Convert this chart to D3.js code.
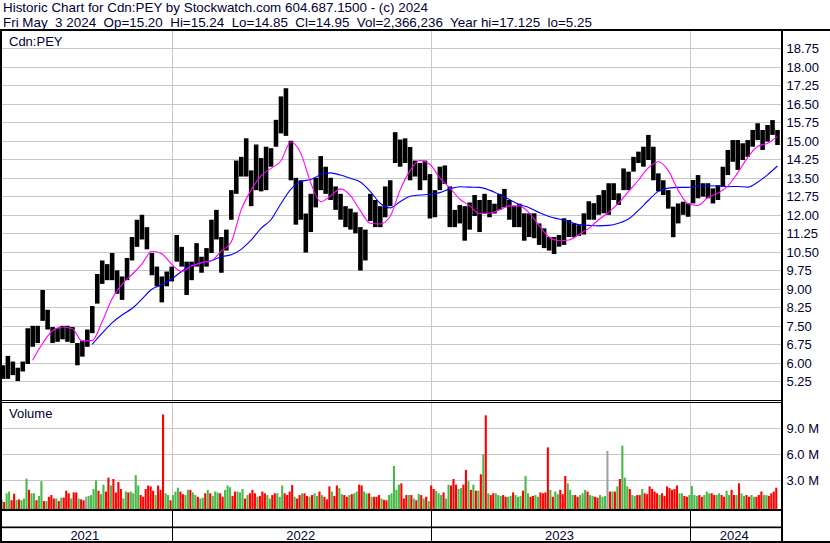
<!DOCTYPE html>
<html><head><meta charset="utf-8">
<script src="https://cdn.jsdelivr.net/npm/d3@7"></script>
<style>
body{margin:0;background:#fff}
svg{display:block}
text{font-family:"Liberation Sans",Arial,sans-serif;fill:#000033}
</style>
</head><body><svg id="c" width="830" height="543"></svg>
<script>
// ---------- DATA ----------
const headerLine1 = "Historic Chart for Cdn:PEY by Stockwatch.com 604.687.1500 - (c) 2024";
const headerLine2 = "Fri May  3 2024  Op=15.20  Hi=15.24  Lo=14.85  Cl=14.95  Vol=2,366,236  Year hi=17.125  lo=5.25";
const symbolLabel = "Cdn:PEY";
const volumeLabel = "Volume";
const firstWeek = "2021-05-03";
// weekly high / low (one bar per week)
const weekHigh = [5.9,6.28,6.05,5.8,6.05,7.4,7.5,7.5,8.95,8.15,
7.45,7.4,7.5,7.5,7.45,6.8,6.9,7.35,8.3,9.6,
10.15,10.0,10.45,9.75,9.5,10.25,11.1,11.8,12.0,11.5,
10.45,9.9,9.5,9.7,9.9,11.18,10.7,10.1,10.1,10.85,
10.3,10.65,11.8,12.2,11.1,11.4,13.0,14.2,14.35,15.1,
13.8,14.85,14.3,14.76,14.7,15.85,16.8,17.13,15.0,13.5,
13.4,12.05,12.85,13.5,14.38,13.95,13.5,13.15,12.85,12.35,
12.25,12.1,11.5,11.4,12.85,12.6,12.35,13.15,13.4,15.35,
15.05,15.1,14.75,14.2,14.1,14.2,13.65,13.0,13.95,14.0,
13.15,12.2,12.4,12.35,12.5,12.8,12.6,12.85,12.6,12.45,
12.85,13.05,12.6,12.35,12.45,12.06,12.06,12.06,11.65,11.45,
11.1,11.1,11.18,11.86,11.79,11.65,11.58,12.06,12.55,12.47,
12.8,13.0,13.28,13.28,12.87,13.88,13.75,14.35,14.56,14.76,
15.24,14.76,13.68,13.4,13.0,12.33,12.46,12.53,12.46,13.41,
13.61,13.28,13.28,13.07,13.2,13.95,14.63,15.03,15.03,14.9,
15.03,15.44,15.71,15.44,15.64,15.84,15.44];
const weekLow = [5.35,5.35,5.5,5.26,5.65,5.95,6.65,6.8,7.7,7.35,
6.8,6.85,6.95,6.85,6.8,5.9,6.25,6.65,7.2,8.4,
9.2,9.35,9.35,8.8,8.55,9.35,10.15,10.7,11.0,10.6,
9.55,9.1,8.45,9.1,9.3,10.1,9.9,8.75,9.35,9.9,
9.65,9.9,10.45,11.0,9.65,10.55,11.8,12.85,13.55,13.55,
12.35,13.0,12.95,13.0,13.95,14.76,15.3,15.2,13.4,11.6,
11.8,10.47,11.3,12.3,13.0,12.85,12.6,12.2,11.8,11.5,
11.4,11.25,9.74,10.15,11.75,11.5,11.5,11.9,12.35,14.1,
13.95,14.1,13.4,13.55,13.0,13.4,11.85,11.9,13.0,13.25,
11.5,11.5,11.65,10.95,11.4,11.95,11.3,12.05,11.9,12.05,
12.2,12.3,11.8,11.5,11.5,10.95,11.1,11.05,10.78,10.65,
10.55,10.41,10.71,10.78,11.1,11.1,11.15,11.2,11.8,11.8,
12.0,12.06,12.0,12.6,12.4,13.0,13.0,13.75,14.1,13.95,
14.22,13.4,12.95,12.8,12.25,11.09,11.65,12.0,11.92,12.46,
12.67,12.74,12.67,12.46,12.6,13.14,13.61,14.15,13.82,14.22,
14.35,14.76,15.03,14.63,14.97,15.24,14.83];
// moving averages, read every second week
const maFastFirstWeek = 6;
const maFast = [6.1,6.78,7.3,7.45,7.38,6.88,6.9,7.66,8.6,9.18,
9.58,10.0,10.52,10.42,10.0,9.7,9.92,10.06,10.14,10.53,
10.9,12.2,13.0,13.58,13.88,14.18,14.95,14.5,13.3,12.53,
12.76,13.05,12.78,12.17,11.66,11.63,11.93,13.0,13.78,14.2,
14.05,13.5,13.1,12.64,12.37,12.05,12.06,12.2,12.36,12.36,
12.08,11.57,11.1,10.95,10.98,11.2,11.45,11.8,12.1,12.47,
12.94,13.4,13.9,14.15,13.8,13.0,12.45,12.38,12.7,12.88,
13.16,13.7,14.32,14.77,14.9,15.17];
const maSlowFirstWeek = 18;
const maSlow = [6.75,7.2,7.62,7.94,8.2,8.58,8.98,9.16,9.4,9.7,
9.96,10.04,10.14,10.3,10.38,10.6,10.97,11.45,11.8,12.45,
13.03,13.35,13.43,13.62,13.7,13.61,13.48,13.33,12.95,12.47,
12.28,12.53,12.75,12.8,12.83,12.9,13.05,13.14,13.12,13.11,
13.0,12.82,12.62,12.42,12.29,12.09,11.93,11.83,11.72,11.6,
11.57,11.55,11.57,11.66,11.83,12.18,12.58,12.95,13.08,13.11,
13.11,13.17,13.18,13.17,13.14,13.15,13.12,13.32,13.62,13.98];
// volume (millions), two bars per week; colour g=up r=down x=unchanged
const volume = [0.7,0.5,1.5,1.7,0.7,1.45,0.75,0.8,0.7,0.9,
3.2,1.9,1.5,1.5,0.7,1.2,2.9,0.6,0.6,1.1,
1.3,0.9,0.9,0.6,1.0,1.0,1.8,1.5,0.9,1.6,
1.6,0.9,0.8,0.7,1.1,1.2,1.3,2.0,3.0,1.8,
1.4,2.5,1.7,3.3,2.4,3.15,1.6,2.8,2.0,0.9,
1.7,1.6,1.7,1.5,3.6,2.4,1.3,1.1,2.0,2.4,
2.3,1.8,1.3,2.4,1.9,10.6,1.5,1.3,0.7,1.3,
1.7,2.15,1.7,1.4,1.3,1.9,1.9,1.6,1.3,1.1,
0.9,1.0,1.5,1.9,1.5,1.2,1.7,1.6,1.5,1.1,
1.9,2.4,2.2,1.2,1.7,1.7,1.6,2.0,0.9,1.3,
1.5,1.9,1.5,1.1,1.2,1.7,1.5,1.3,0.9,1.3,
1.5,1.5,1.1,2.4,1.5,1.3,1.7,2.45,1.1,0.9,
1.3,1.5,1.5,1.2,1.1,1.3,1.5,1.2,1.7,1.3,
1.1,0.8,2.3,1.7,1.2,2.4,2.1,1.4,1.3,1.1,
1.3,1.4,1.5,1.7,2.5,2.4,1.7,1.5,1.5,1.1,
1.1,1.1,1.3,0.9,0.75,0.7,1.3,1.5,4.65,1.9,
2.5,2.65,0.9,1.3,1.3,1.3,
0.9,0.7,1.4,1.3,0.9,1.1,0.6,2.4,2.0,1.8,
1.5,1.3,1.6,0.9,2.5,2.4,3.15,2.5,2.0,2.1,
2.5,4.2,2.9,1.9,2.5,1.8,1.8,3.7,6.0,10.5,
1.5,1.3,1.5,1.5,1.3,1.2,1.3,1.1,1.1,1.2,
1.6,1.3,1.1,1.2,1.8,3.5,1.5,1.1,1.2,1.3,
1.1,1.6,1.5,1.6,6.8,1.9,1.1,1.7,1.4,1.9,
1.4,3.5,2.65,1.9,1.3,1.3,1.1,1.3,1.5,1.9,
1.7,1.3,1.2,1.1,1.0,1.3,1.1,1.2,6.4,1.7,
1.7,1.7,2.3,3.15,7.0,3.3,2.3,2.0,1.3,1.2,
1.3,1.3,2.0,1.5,1.4,2.3,2.0,1.7,1.5,1.3,
1.5,1.2,2.3,2.1,1.9,2.0,2.4,1.5,1.5,1.2,
1.1,1.3,2.35,1.3,1.2,1.3,1.1,1.3,1.7,1.5,
1.5,1.3,1.3,1.5,1.3,1.1,1.8,1.3,1.9,1.3,
1.3,2.65,1.5,1.2,1.3,1.1,1.3,1.1,1.1,1.3,
1.7,1.3,1.3,1.2,1.5,1.7,2.15];
const volumeColor = "grggrrgrgg"+"grggrggrgr"+"rrgrgrrrgr"+"rgrrxggggr"+"ggrrgrrrrg"+
"grggggrrrr"+"rrgrrrggrg"+"ggrrggrggr"+"ggrgrgggrr"+"gggrrgggrg"+
"rrrgrrrggr"+"rgggrrrrgr"+"rgrrgrggrg"+"rrrgrrggrr"+"grggrrggrg"+
"rrrgrrgggg"+"grrrgr"+
"grgrgrgrrg"+"ggrggrrrgg"+"rrgrgrgrgr"+"grrgggrrgg"+"rgggrggrrg"+
"grrrrgrggr"+"rrgggrrggg"+"rggrrgggxr"+"grgrgggrgg"+"rrgrrrrrrg"+
"rrrrrrrggr"+"rggggrrggg"+"rrggrrggrr"+"grggrrggrr"+"rggrrrr";
const priceTicks = [18.75,18.00,17.25,16.50,15.75,15.00,14.25,13.50,12.75,12.00,11.25,10.50,9.75,9.00,8.25,7.50,6.75,6.00,5.25];
const volumeTicks = [9,6,3];
const years = ["2021","2022","2023","2024"];

// ---------- LAYOUT ----------
const W = 830, H = 543;
const L = 2, R = 781;
const pTop = 31, pBot = 400;
const vTop = 403, vBot = 509;
const svg = d3.select("#c");
const parse = d3.timeParse("%Y-%m-%d");
const t0 = parse(firstWeek);
const dayMs = 864e5;

const x = d3.scaleTime().domain([new Date(2022,0,1), new Date(2024,0,1)]).range([172.7, 690.5]);
const yP = d3.scaleLinear().domain([5.25, 18.75]).range([381.3, 48.3]);
const yV = d3.scaleLinear().domain([0, 9]).range([506.3, 428.3]);

const grid = "#c8c8c8";
svg.append("g").selectAll("line").data(priceTicks).join("line")
  .attr("x1", L).attr("x2", R)
  .attr("y1", d => Math.round(yP(d)) + 0.5).attr("y2", d => Math.round(yP(d)) + 0.5)
  .attr("stroke", grid).attr("stroke-width", 1);
svg.append("g").selectAll("line").data(volumeTicks).join("line")
  .attr("x1", L).attr("x2", R)
  .attr("y1", d => Math.round(yV(d)) + 0.5).attr("y2", d => Math.round(yV(d)) + 0.5)
  .attr("stroke", grid).attr("stroke-width", 1);
const yearStarts = years.slice(1).map(y => new Date(+y, 0, 1));
const yx = d => Math.floor(x(d)) + 0.5;
svg.append("g").selectAll("line").data(yearStarts).join("line")
  .attr("x1", yx).attr("x2", yx).attr("y1", pTop).attr("y2", vBot)
  .attr("stroke", grid);
svg.append("g").selectAll("line").data(yearStarts).join("line")
  .attr("x1", yx).attr("x2", yx).attr("y1", vBot).attr("y2", 541)
  .attr("stroke", "#000");

// volume bars
const vCol = {g:"#4cb84c", r:"#ff0000", x:"#a0a0a0"};
svg.append("g").selectAll("rect").data(volume).join("rect")
  .attr("x", (d,i) => x(new Date(+t0 + i*3.5*dayMs)) + 0.3)
  .attr("width", 2.1)
  .attr("y", d => yV(d))
  .attr("height", d => vBot - yV(d))
  .attr("fill", (d,i) => vCol[volumeColor[i]]);

// price bars (weekly range)
const wx = i => x(d3.timeDay.offset(t0, 7*i));
svg.append("g").selectAll("rect").data(weekHigh).join("rect")
  .attr("x", (d,i) => wx(i) + 0.3)
  .attr("width", (d,i) => wx(i+1) - wx(i) - 0.4)
  .attr("y", d => yP(d))
  .attr("height", (d,i) => yP(weekLow[i]) - yP(d))
  .attr("fill", "#000");

// moving averages
const maLine = first => d3.line()
  .x((d,i) => x(new Date(+t0 + (7*(first + 2*i) + 3.5)*dayMs)))
  .y(d => yP(d)).curve(d3.curveMonotoneX);
svg.append("path").attr("d", maLine(maSlowFirstWeek)(maSlow))
  .attr("fill","none").attr("stroke","#0000ff").attr("stroke-width",1.1);
svg.append("path").attr("d", maLine(maFastFirstWeek)(maFast))
  .attr("fill","none").attr("stroke","#ff00ff").attr("stroke-width",1.1);

// frame lines
const blk = (x0,y0,w,h) => svg.append("rect").attr("x",x0).attr("y",y0).attr("width",w).attr("height",h).attr("fill","#000");
blk(0, 29, W, 2);
blk(0, 29, 2, 514);
blk(R, 29, 2, 514);
blk(0, 400, R, 1);
blk(0, 402, R, 1);
blk(0, 509, R, 2);
blk(0, 526.5, R, 1.7);
blk(0, 541, W, 2);

// header text
const h1 = svg.append("text").attr("x",3).attr("y",12.3).style("font-size","13px").style("white-space","pre").text(headerLine1);
const h2 = svg.append("text").attr("x",3).attr("y",26.8).style("font-size","13px").style("white-space","pre").text(headerLine2);
const k = 425 / h1.node().getComputedTextLength();
h1.attr("textLength", 425).attr("lengthAdjust","spacingAndGlyphs");
h2.attr("textLength", h2.node().getComputedTextLength()*k).attr("lengthAdjust","spacingAndGlyphs");

svg.append("text").attr("x",9).attr("y",46).style("font-size","13px").text(symbolLabel);
svg.append("text").attr("x",9).attr("y",417.7).style("font-size","13px").text(volumeLabel);

svg.append("g").selectAll("text").data(priceTicks).join("text")
  .attr("x", 786.5).attr("y", d => yP(d) + 4.8).style("font-size","13px")
  .text(d => d.toFixed(2));
svg.append("g").selectAll("text").data(volumeTicks).join("text")
  .attr("x", 786.5).attr("y", d => yV(d) + 4.8).style("font-size","13px")
  .text(d => d.toFixed(1) + " M");

const bounds = [L - 2, ...yearStarts.map(d => x(d)), R];
svg.append("g").selectAll("text").data(years).join("text")
  .attr("x", (d,i) => (bounds[i] + bounds[i+1]) / 2 - 1.5)
  .attr("y", 539.6).attr("text-anchor","middle").style("font-size","13px")
  .text(d => d);
</script></body></html>
